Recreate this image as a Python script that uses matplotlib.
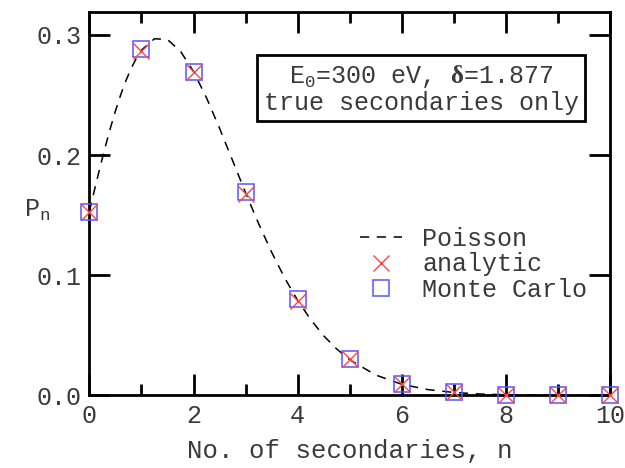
import numpy as np
import matplotlib
matplotlib.use("Agg")
import matplotlib.pyplot as plt

plt.rcParams['font.family'] = ['Liberation Mono', 'DejaVu Sans']
plt.rcParams['mathtext.fontset'] = 'custom'
plt.rcParams['mathtext.rm'] = 'Liberation Mono'
plt.rcParams['mathtext.it'] = 'Liberation Mono'
plt.rcParams['mathtext.bf'] = 'Liberation Serif:bold'

# Poisson curve
curve_x = [0, 0.1, 0.2, 0.3, 0.4, 0.5, 0.6, 0.7, 0.8, 0.9, 1.0, 1.25, 1.5, 1.75, 2.0,
           2.25, 2.5, 2.75, 3.0, 3.25, 3.5, 3.75, 4.0, 4.25, 4.5, 4.75, 5.0, 5.5,
           6.0, 6.5, 7.0, 7.5, 8.0, 9.0, 10.0]
curve_y = [0.1531, 0.1714, 0.1891, 0.2061, 0.2220, 0.2367, 0.2500, 0.2618, 0.2720,
           0.2805, 0.2874, 0.2969, 0.2962, 0.2865, 0.2697, 0.2477, 0.2224, 0.1956,
           0.1687, 0.1431, 0.1193, 0.0979, 0.0792, 0.0632, 0.0497, 0.0387, 0.0297,
           0.0170, 0.0093, 0.0049, 0.0025, 0.0012, 0.0006, 0.0001, 0.0000]

n = [0, 1, 2, 3, 4, 5, 6, 7, 8, 9, 10]
analytic = [0.153, 0.287, 0.269, 0.168, 0.079, 0.030, 0.0093, 0.0025, 0.0006, 0.0001, 0.0]
monte_carlo = [0.153, 0.288, 0.269, 0.169, 0.080, 0.030, 0.0095, 0.0025, 0.0006, 0.0001, 0.0]

txt = '#3a3a3a'
fs = 18
fig, ax = plt.subplots(figsize=(6.25, 4.68), dpi=100)
fig.subplots_adjust(left=0.143, right=0.976, top=0.974, bottom=0.155)

ax.plot(curve_x, curve_y, color='black', lw=1.1, dashes=(6, 5), label='Poisson')
ax.plot(n, analytic, ls='none', marker='x', ms=11, mew=1.0, color='#ff4444',
        label='analytic', clip_on=False, zorder=4)
ax.plot(n, monte_carlo, ls='none', marker='s', ms=11.5, mew=1.1, mfc='none',
        mec='#5555ff', label='Monte Carlo', clip_on=False, zorder=3)

ax.set_xlim(0, 10)
ax.set_ylim(0, 0.319)
ax.set_xticks([0, 2, 4, 6, 8, 10])
ax.set_xticks([1, 3, 5, 7, 9], minor=True)
ax.set_yticks([0.0, 0.1, 0.2, 0.3])
ax.set_yticklabels(['0.0', '0.1', '0.2', '0.3'])
ax.tick_params(which='both', direction='in', top=True, right=True, width=2,
               labelsize=fs, labelcolor=txt, pad=6)
ax.tick_params(which='major', length=15)
ax.tick_params(which='minor', length=8)
for s in ax.spines.values():
    s.set_linewidth(2)

ax.set_xlabel('No. of secondaries, n', fontsize=fs + 0.5, color=txt, labelpad=8)
ax.set_ylabel('P$_n$', fontsize=fs, color=txt, rotation=0)
ax.yaxis.set_label_coords(-0.1, 0.45)

ax.text(0.637, 0.80, 'E$_0$=300 eV, $\\mathbf{δ}$=1.877\ntrue secondaries only',
        transform=ax.transAxes, ha='center', va='center', fontsize=fs, color=txt,
        linespacing=1.05,
        bbox=dict(boxstyle='square,pad=0.25', fc='white', ec='black', lw=2))

leg = ax.legend(loc='upper left', bbox_to_anchor=(0.5, 0.465), frameon=False,
                fontsize=fs, handlelength=1.7, handletextpad=0.8,
                labelspacing=0.05, borderaxespad=0)
for t in leg.get_texts():
    t.set_color(txt)

fig.savefig('out.png', dpi=100)
